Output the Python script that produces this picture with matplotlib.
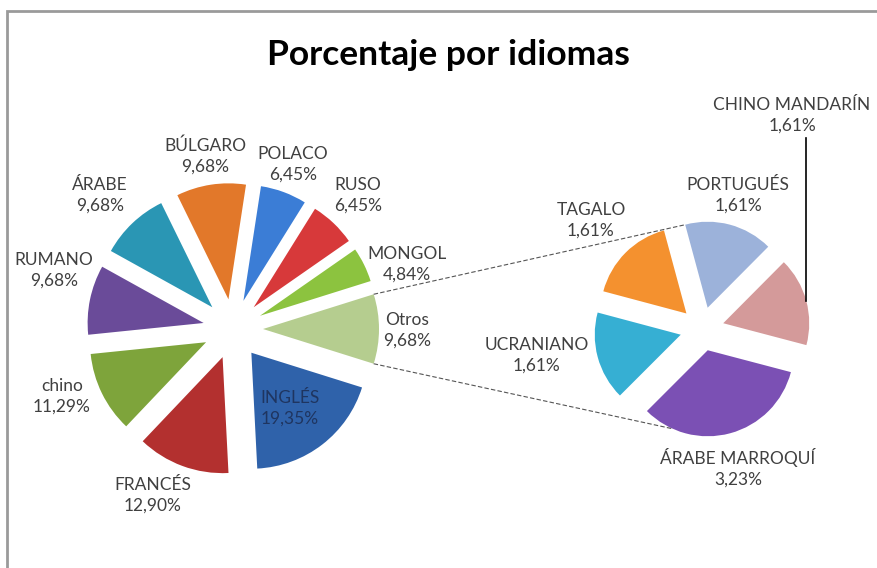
import numpy as np
import matplotlib.pyplot as plt
from matplotlib.patches import Rectangle

# figure size in pixels, everything below is laid out in pixel units (y measured from top)
W, H = 877, 568

main_labels = ['INGLÉS', 'FRANCÉS', 'chino', 'RUMANO', 'ÁRABE',
               'BÚLGARO', 'POLACO', 'RUSO', 'MONGOL', 'Otros']
main_values = [19.35, 12.90, 11.29, 9.68, 9.68, 9.68, 6.45, 6.45, 4.84, 9.68]
main_colors = ['#2f62aa', '#b3302f', '#7ea43b', '#6a4b99', '#2a96b4',
               '#e2782a', '#3b7dd6', '#d7393a', '#8cc33f', '#b5cd8f']

sub_labels = ['UCRANIANO', 'TAGALO', 'PORTUGUÉS', 'CHINO MANDARÍN', 'ÁRABE MARROQUÍ']
sub_values = [1.61, 1.61, 1.61, 1.61, 3.23]
sub_colors = ['#36afd3', '#f4912f', '#9cb2da', '#d49a9a', '#7b50b4']

# label anchor points (pixels, y from top)
main_label_pos = [(290, 408), (153, 495), (62, 396), (54, 270), (100, 195),
                  (205, 156), (293, 164), (358, 195), (407, 264), (407, 330)]
sub_label_pos = [(537, 355), (591, 220), (738, 195), (792, 115), (738, 468)]


def fmt(v):
    return ('%.2f' % v).replace('.', ',') + '%'


def main():
    plt.rcParams['font.family'] = ['Lato', 'DejaVu Sans']
    fig = plt.figure(figsize=(W / 100, H / 100), dpi=100)
    ax = fig.add_axes([0, 0, 1, 1])

    # main pie, "Otros" slice centred on the right-hand horizontal
    start = -main_values[-1] / sum(main_values) * 180
    wm, _ = ax.pie(main_values, colors=main_colors, startangle=start, counterclock=False,
                   center=(233, H - 329), radius=116, explode=[30] * len(main_values),
                   wedgeprops=dict(linewidth=0))

    # secondary pie with the breakdown of "Otros"
    ws, _ = ax.pie(sub_values, colors=sub_colors, startangle=225, counterclock=False,
                   center=(702, H - 329), radius=86, explode=[22] * len(sub_values),
                   wedgeprops=dict(linewidth=0))

    ax.set_xlim(0, W)
    ax.set_ylim(0, H)
    ax.set_aspect('equal')
    ax.axis('off')

    def edge_point(w, ang):
        cx, cy = w.center
        a = np.radians(ang)
        return cx + w.r * np.cos(a), cy + w.r * np.sin(a)

    # connector lines between "Otros" and the secondary pie
    otros = wm[-1]
    p1 = edge_point(otros, otros.theta2)
    p2 = edge_point(ws[2], ws[2].theta2)
    ax.plot([p1[0], p2[0]], [p1[1], p2[1]], ls=(0, (4, 2)), color='#555555', lw=0.8)
    p1 = edge_point(otros, otros.theta1)
    p2 = edge_point(ws[4], -114)
    ax.plot([p1[0], p2[0]], [p1[1], p2[1]], ls=(0, (4, 2)), color='#555555', lw=0.8)

    # leader line for CHINO MANDARÍN
    w = ws[3]
    px, py = edge_point(w, (w.theta1 + w.theta2) / 2)
    ax.plot([px, px], [py, H - 138], color='black', lw=1.2)

    for lab, v, (x, y) in zip(main_labels, main_values, main_label_pos):
        col = '#1f3560' if lab == 'INGLÉS' else '#404040'
        ax.text(x, H - y, lab + '\n' + fmt(v), ha='center', va='center',
                fontsize=12.5, color=col, linespacing=1.35)
    for lab, v, (x, y) in zip(sub_labels, sub_values, sub_label_pos):
        ax.text(x, H - y, lab + '\n' + fmt(v), ha='center', va='center',
                fontsize=12.5, color='#404040', linespacing=1.35)

    ax.text(448, H - 55, 'Porcentaje por idiomas', ha='center', va='center',
            fontsize=25.5, fontweight='bold', color='black')

    # chart border (runs off the right and bottom edges)
    ax.add_patch(Rectangle((7, -20), W + 20, H - 11 + 20, fill=False,
                           edgecolor='#9a9a9a', lw=2, clip_on=True))

    fig.savefig('out.png', dpi=100)


if __name__ == '__main__':
    main()
